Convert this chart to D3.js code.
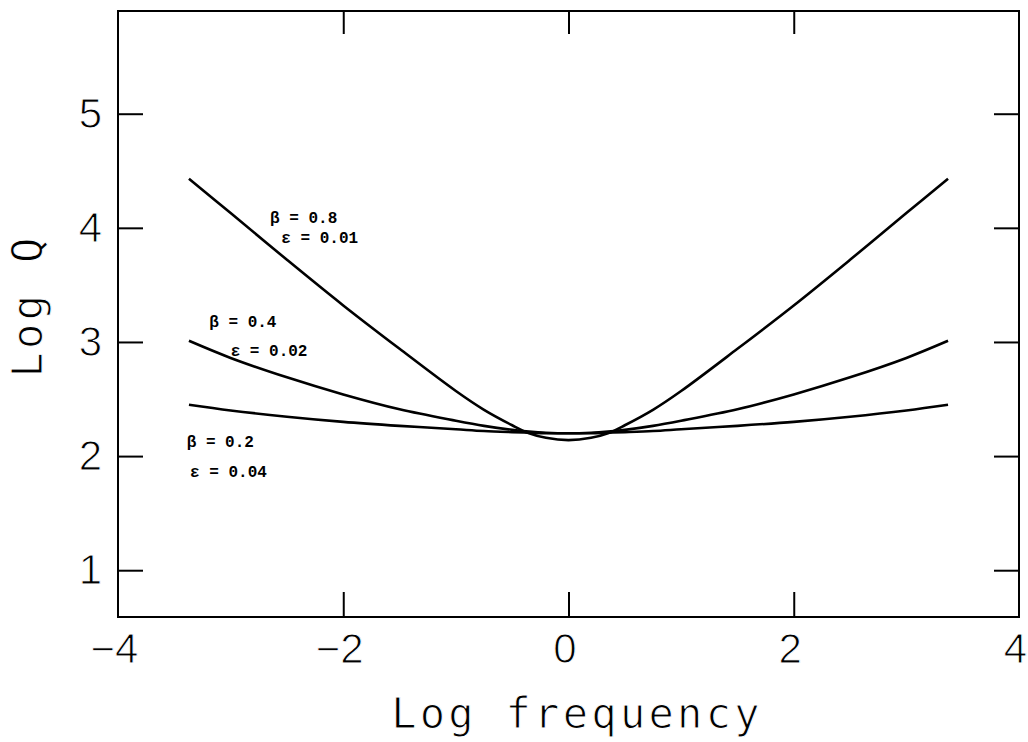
<!DOCTYPE html>
<html lang="en">
<head>
<meta charset="UTF-8">
<title>Log Q against log frequency</title>
<script src="https://d3js.org/d3.v7.min.js"></script>
<style>
  body { margin: 0; background: #fff; }
  svg { display: block; background: #fff; }
  .big { font-family: 'Liberation Sans', Arial, sans-serif; font-size: 42px; fill: #000; stroke: #fff; stroke-width: 1px; }
  .title { font-family: 'DejaVu Sans Mono', monospace; font-size: 42px; letter-spacing: 3.3px; fill: #000; stroke: #fff; stroke-width: 1px; }
  .note { font-family: 'Liberation Mono', monospace; font-size: 16px; font-weight: bold; fill: #000; }
</style>
</head>
<body>
<div id="chart"></div>
<script>
// log frequency sample points
var freq = [-3.37, -3, -2.5, -2, -1.5, -1, -0.75, -0.5, -0.35, -0.2, 0, 0.2, 0.35, 0.5, 0.75, 1, 1.5, 2, 2.5, 3, 3.37];

// log Q for each curve
var q08 = [4.43, 4.13, 3.72, 3.32, 2.94, 2.57, 2.405, 2.27, 2.20, 2.16, 2.14, 2.16, 2.20, 2.27, 2.405, 2.57, 2.94, 3.32, 3.72, 4.13, 4.43];
var q04 = [3.01, 2.86, 2.69, 2.54, 2.41, 2.31, 2.265, 2.23, 2.215, 2.205, 2.20, 2.205, 2.215, 2.23, 2.265, 2.31, 2.41, 2.54, 2.69, 2.86, 3.01];
var q02 = [2.45, 2.40, 2.345, 2.30, 2.265, 2.235, 2.22, 2.21, 2.205, 2.20, 2.20, 2.20, 2.205, 2.21, 2.22, 2.235, 2.265, 2.30, 2.345, 2.40, 2.45];

var betaLabels = ["β = 0.8", "β = 0.4", "β = 0.2"];
var epsLabels = ["ε = 0.01", "ε = 0.02", "ε = 0.04"];

var xLabelTicks = [-4, -2, 0, 2, 4];
var xMarkTicks = [-2, 0, 2];
var yTicks = [1, 2, 3, 4, 5];

var width = 1028, height = 742;

var svg = d3.select('#chart').append('svg')
    .attr('width', width)
    .attr('height', height);

var x = d3.scaleLinear().domain([-4, 4]).range([118, 1019]);
var y = d3.scaleLinear().domain([0.59, 5.9]).range([617, 11]);

var x0 = x.range()[0], x1 = x.range()[1];
var yTop = y.range()[1], yBot = y.range()[0];

// ticks pointing inward on all four sides
svg.append('g')
    .attr('transform', 'translate(0,' + yBot + ')')
    .call(d3.axisBottom(x).tickValues(xMarkTicks).tickSizeInner(-25).tickSizeOuter(0).tickFormat(''))
    .call(g => g.select('.domain').remove());

svg.append('g')
    .attr('transform', 'translate(0,' + yTop + ')')
    .call(d3.axisTop(x).tickValues(xMarkTicks).tickSizeInner(-23).tickSizeOuter(0).tickFormat(''))
    .call(g => g.select('.domain').remove());

svg.append('g')
    .attr('transform', 'translate(' + x0 + ',0)')
    .call(d3.axisLeft(y).tickValues(yTicks).tickSizeInner(-25).tickSizeOuter(0).tickFormat(''))
    .call(g => g.select('.domain').remove());

svg.append('g')
    .attr('transform', 'translate(' + x1 + ',0)')
    .call(d3.axisRight(y).tickValues(yTicks).tickSizeInner(-25).tickSizeOuter(0).tickFormat(''))
    .call(g => g.select('.domain').remove());

svg.selectAll('.tick line').attr('stroke', '#000').attr('stroke-width', 2);

// tick labels
var xLab = svg.append('g')
    .attr('transform', 'translate(0,' + yBot + ')')
    .call(d3.axisBottom(x).tickValues(xLabelTicks).tickSize(0).tickPadding(16).tickFormat(d3.format('d')));
xLab.select('.domain').remove();
xLab.selectAll('text').attr('class', 'big').attr('dx', -4);

var yLab = svg.append('g')
    .attr('transform', 'translate(' + x0 + ',0)')
    .call(d3.axisLeft(y).tickValues(yTicks).tickSize(0).tickPadding(16).tickFormat(d3.format('d')));
yLab.select('.domain').remove();
yLab.selectAll('text').attr('class', 'big');

// frame
svg.append('rect')
    .attr('x', x0).attr('y', yTop)
    .attr('width', x1 - x0).attr('height', yBot - yTop)
    .attr('fill', 'none').attr('stroke', '#000').attr('stroke-width', 2);

// curves
var series = [q08, q04, q02];
var line = d3.line()
    .x((d, i) => x(freq[i]))
    .y(d => y(d))
    .curve(d3.curveCatmullRom.alpha(0.5));

svg.append('g').selectAll('path')
    .data(series)
    .enter().append('path')
    .attr('d', line)
    .attr('fill', 'none')
    .attr('stroke', '#000')
    .attr('stroke-width', 2.6)
    .attr('stroke-linejoin', 'round');

// curve notes, placed in data units
var betaPos = [[-2.65, 4.04], [-3.19, 3.13], [-3.39, 2.08]];
var epsPos = [[-2.55, 3.87], [-3.0, 2.88], [-3.36, 1.82]];

svg.append('g').selectAll('text')
    .data(betaLabels)
    .enter().append('text')
    .attr('class', 'note')
    .attr('x', (d, i) => x(betaPos[i][0]))
    .attr('y', (d, i) => y(betaPos[i][1]))
    .text(d => d);

svg.append('g').selectAll('text')
    .data(epsLabels)
    .enter().append('text')
    .attr('class', 'note')
    .attr('x', (d, i) => x(epsPos[i][0]))
    .attr('y', (d, i) => y(epsPos[i][1]))
    .text(d => d);

// axis titles
svg.append('text')
    .attr('class', 'title')
    .attr('x', 577)
    .attr('y', 728)
    .attr('text-anchor', 'middle')
    .text('Log frequency');

svg.append('text')
    .attr('class', 'title')
    .attr('transform', 'translate(42,306) rotate(-90)')
    .attr('text-anchor', 'middle')
    .text('Log Q');
</script>
</body>
</html>
